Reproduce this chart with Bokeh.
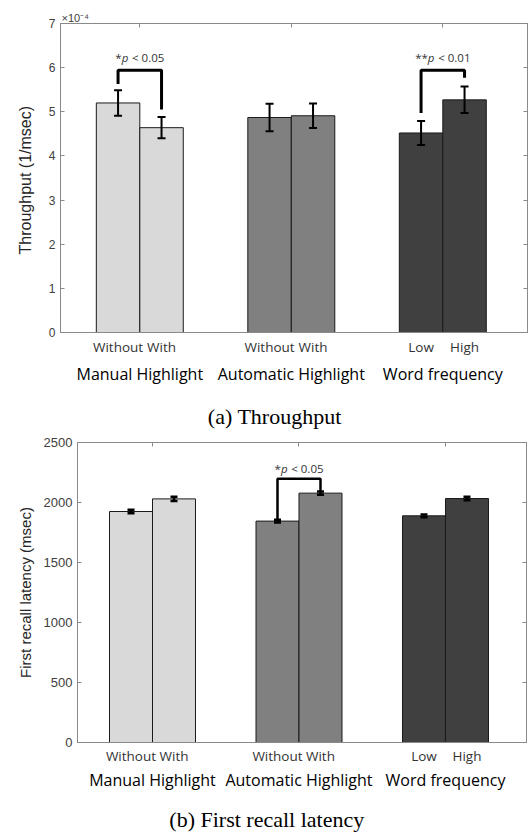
from bokeh.plotting import figure
from bokeh.models import (Range1d, FixedTicker, LinearAxis, ColumnDataSource, Whisker,
                          TeeHead, LabelSet, Title, CustomJSTickFormatter)
from bokeh.embed import file_html
from bokeh.resources import INLINE
from bokeh.core.properties import value

# ---------------- data ----------------
groups = ["Manual Highlight", "Automatic Highlight", "Word frequency"]
group_pos = [1, 2, 3]
sub_labels = ["Without", "With", "Without", "With", "Low", "High"]
bar_colors = ["#d9d9d9", "#d9d9d9", "#808080", "#808080", "#404040", "#404040"]

# (a) Throughput, x 10^-4 (1/msec)
tp_mean = [5.20, 4.64, 4.87, 4.91, 4.52, 5.27]
tp_err = [0.29, 0.24, 0.31, 0.28, 0.27, 0.30]
tp_ticks = [0, 1, 2, 3, 4, 5, 6, 7]
tp_sig_left = [0, 4]
tp_sig_right = [1, 5]
tp_sig_top = [5.94, 5.94]
tp_sig_left_end = [5.63, 4.97]
tp_sig_right_end = [5.05, 5.77]
tp_sig_stars = ["*", "**"]
tp_sig_level = ["< 0.05", "< 0.01"]

# (b) First recall latency (msec)
lat_mean = [1925, 2030, 1845, 2078, 1889, 2033]
lat_err = [15, 18, 12, 14, 11, 14]
lat_ticks = [0, 500, 1000, 1500, 2000, 2500]
lat_sig_left = [2]
lat_sig_right = [3]
lat_sig_top = [2197]
lat_sig_left_end = [1850]
lat_sig_right_end = [2094]
lat_sig_stars = ["*"]
lat_sig_level = ["< 0.05"]

TICK_FONT = "Liberation Sans"
LABEL_FONT = "Open Sans"
FRAME = "#8a8a8a"
SIG_SIZE = 11.5

LOOKUP = """
let best = 0, bd = 1e9;
for (let i = 0; i < pos.length; i++) { const d = Math.abs(pos[i] - tick); if (d < bd) { bd = d; best = i; } }
return labels[best];
"""


def label_axis(pos, labels, font, size, color, standoff):
    return LinearAxis(ticker=FixedTicker(ticks=pos),
                      formatter=CustomJSTickFormatter(args=dict(pos=pos, labels=labels), code=LOOKUP),
                      major_label_text_font=font, major_label_text_font_size=size,
                      major_label_text_color=color, major_label_standoff=standoff,
                      major_tick_in=0, major_tick_out=0, minor_tick_in=0, minor_tick_out=0,
                      axis_line_color=None, major_tick_line_color=None,
                      minor_tick_line_color=None)


def make_panel(mean, err, ticks, yr, xr, width, height, borders, ylabel, ylabel_size,
               ylabel_standoff, tick_size, sig_l, sig_r, sig_top, sig_le, sig_re, sig_stars,
               sig_level, sig_off, sig_lw, bar_w, err_lw, cap, sub_so, grp_so, caption,
               cap_x, cap_so):
    p = figure(width=width, height=height, x_range=Range1d(*xr), y_range=Range1d(*yr),
               output_backend="svg", toolbar_location=None,
               min_border_left=borders[0], min_border_right=borders[1],
               min_border_top=borders[2], min_border_bottom=borders[3])
    p.grid.visible = False
    p.outline_line_color = FRAME
    p.outline_line_width = 1
    p.background_fill_color = "white"
    p.border_fill_color = "white"

    half = bar_w / 2.0
    xs = []
    for i in range(len(mean)):
        g = group_pos[i // 2]
        xs.append(g - half if i % 2 == 0 else g + half)

    src = ColumnDataSource(dict(x=xs, top=mean, color=bar_colors,
                                upper=[m + e for m, e in zip(mean, err)],
                                lower=[m - e for m, e in zip(mean, err)]))
    p.vbar(x="x", top="top", width=bar_w, bottom=0, fill_color="color",
           line_color="#1a1a1a", line_width=1, source=src)
    p.add_layout(Whisker(source=src, base="x", upper="upper", lower="lower",
                         dimension="height", line_color="black", line_width=err_lw,
                         level="overlay",
                         upper_head=TeeHead(size=cap, line_width=err_lw, line_color="black"),
                         lower_head=TeeHead(size=cap, line_width=err_lw, line_color="black")))

    # significance brackets
    bxs, bys = [], []
    for l, r, t, le, re in zip(sig_l, sig_r, sig_top, sig_le, sig_re):
        bxs.append([xs[l], xs[l], xs[r], xs[r]])
        bys.append([le, t, t, re])
    p.multi_line(xs=bxs, ys=bys, line_color="black", line_width=sig_lw)

    # "*p < 0.05" built from pieces so that p can be italic (approximate glyph widths)
    star_w = 0.55 * SIG_SIZE
    p_w = 0.62 * SIG_SIZE
    gap = 0.28 * SIG_SIZE
    lvl_w = 2.8 * SIG_SIZE
    p_left = [-(len(s) * star_w + p_w + gap + lvl_w) / 2 + len(s) * star_w for s in sig_stars]
    sig_src = ColumnDataSource(dict(
        x=[(xs[l] + xs[r]) / 2 for l, r in zip(sig_l, sig_r)], y=sig_top,
        stars=sig_stars, pch=["p"] * len(sig_stars), level=sig_level,
        off_p=p_left, off_l=[o + p_w + gap for o in p_left]))
    common = dict(x="x", y="y", source=sig_src, y_offset=sig_off,
                  text_font=value(LABEL_FONT), text_font_size=value(f"{SIG_SIZE}px"),
                  text_color="#333333", text_baseline="middle")
    p.add_layout(LabelSet(text="stars", x_offset="off_p", text_align="right", **common))
    p.add_layout(LabelSet(text="pch", x_offset="off_p", text_align="left",
                          text_font_style="italic", **common))
    p.add_layout(LabelSet(text="level", x_offset="off_l", text_align="left", **common))

    # bottom: sub-category labels (main x axis)
    ax = p.xaxis[0]
    ax.ticker = FixedTicker(ticks=xs)
    ax.formatter = CustomJSTickFormatter(args=dict(pos=xs, labels=sub_labels), code=LOOKUP)
    ax.major_label_text_font = LABEL_FONT
    ax.major_label_text_font_size = "13.5px"
    ax.major_label_text_color = "#333333"
    ax.major_label_standoff = sub_so
    ax.major_tick_in = 0
    ax.major_tick_out = 0
    ax.minor_tick_in = 0
    ax.minor_tick_out = 0
    ax.axis_line_color = FRAME
    ax.major_tick_line_color = None
    ax.minor_tick_line_color = None
    # group labels and caption
    p.add_layout(label_axis(group_pos, groups, LABEL_FONT, "16px", "#000000", grp_so), "below")
    p.add_layout(label_axis([cap_x], [caption], "Liberation Serif", "22px", "#000000", cap_so), "below")

    # top axis (ticks only)
    ta = LinearAxis(ticker=FixedTicker(ticks=group_pos),
                    formatter=CustomJSTickFormatter(code="return ''"),
                    major_label_text_font_size="0px", major_label_standoff=0,
                    major_tick_in=4, major_tick_out=0, minor_tick_in=0, minor_tick_out=0,
                    axis_line_color=FRAME, major_tick_line_color=FRAME)
    p.add_layout(ta, "above")

    # left axis
    ya = p.yaxis[0]
    ya.ticker = FixedTicker(ticks=ticks)
    ya.major_tick_in = 4
    ya.major_tick_out = 0
    ya.minor_tick_in = 0
    ya.minor_tick_out = 0
    ya.major_label_standoff = 5
    ya.major_label_text_font = TICK_FONT
    ya.major_label_text_font_size = tick_size
    ya.major_label_text_color = "#404040"
    ya.axis_line_color = FRAME
    ya.major_tick_line_color = FRAME
    ya.axis_label = ylabel
    ya.axis_label_text_font = TICK_FONT
    ya.axis_label_text_font_style = "normal"
    ya.axis_label_text_font_size = ylabel_size
    ya.axis_label_text_color = "#262626"
    ya.axis_label_standoff = ylabel_standoff

    # right axis (ticks only)
    ra = LinearAxis(ticker=FixedTicker(ticks=ticks),
                    formatter=CustomJSTickFormatter(code="return ''"),
                    major_label_text_font_size="0px", major_label_standoff=0,
                    major_tick_in=4, major_tick_out=0, minor_tick_in=0, minor_tick_out=0,
                    axis_line_color=FRAME, major_tick_line_color=FRAME)
    p.add_layout(ra, "right")
    return p


p1 = make_panel(tp_mean, tp_err, tp_ticks, (0, 7), (0.4766, 3.559), 529, 434, (60, 2, 23, 102),
                "Throughput  (1/msec)", "16px", 12, "12px",
                tp_sig_left, tp_sig_right, tp_sig_top, tp_sig_left_end, tp_sig_right_end,
                tp_sig_stars, tp_sig_level, 13, 3, 0.287, 2, 8, 5, 4, "(a)  Throughput", 1.909, 16)
# exponent marker above the axis
p1.add_layout(Title(text="×10⁻⁴", align="left", offset=1, text_font=TICK_FONT,
                    text_font_size="11px", text_font_style="normal",
                    text_color="#404040", standoff=0), "above")

p2 = make_panel(lat_mean, lat_err, lat_ticks, (0, 2500), (0.488, 3.553), 529, 401, (77, 3, 8, 93),
                "First recall latency (msec)", "15px", 7, "13px",
                lat_sig_left, lat_sig_right, lat_sig_top, lat_sig_left_end, lat_sig_right_end,
                lat_sig_stars, lat_sig_level, 10, 2.5, 0.2935, 2.5, 7, 4, 1,
                "(b)  First recall latency", 1.799, 13)

open("out.html", "w").write(file_html([p1, p2], INLINE))
